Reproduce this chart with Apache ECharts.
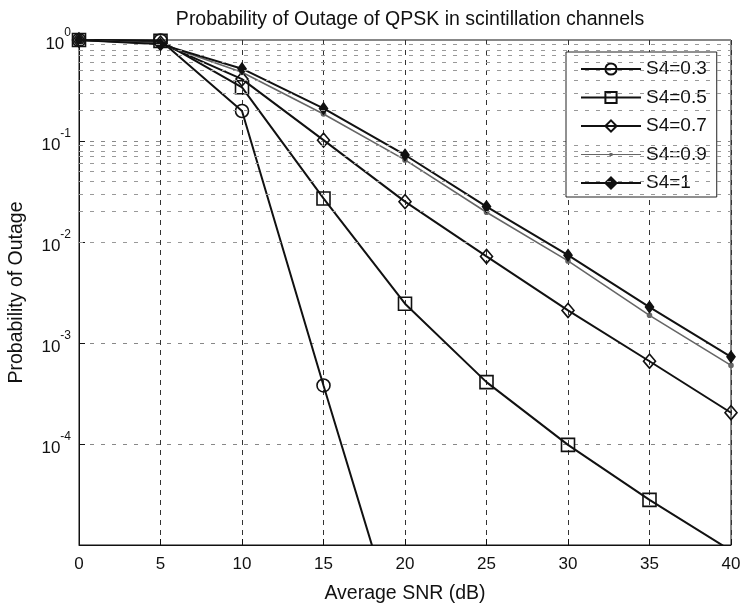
<!DOCTYPE html>
<html>
<head>
<meta charset="utf-8">
<script src="https://cdn.jsdelivr.net/npm/echarts@6/dist/echarts.min.js"></script>
<style>
  html, body { margin: 0; padding: 0; background: #fff; }
  #chart { width: 744px; height: 604px; }
</style>
</head>
<body>
<div id="chart"></div>
<script>
// Average SNR (dB) sample points
const snr = [0, 5, 10, 15, 20, 25, 30, 35, 40];

// Outage probability for each scintillation index S4
const outageS4_03 = [1, 0.99, 0.198, 3.8e-4, 8.3e-7];
const outageS4_05 = [1, 0.98, 0.34, 0.027, 2.45e-3, 4.1e-4, 9.8e-5, 2.8e-5, 8.8e-6];
const outageS4_07 = [1, 0.93, 0.41, 0.102, 0.0251, 7.2e-3, 2.1e-3, 6.6e-4, 2.04e-4];
const outageS4_09 = [1, 0.92, 0.48, 0.185, 0.065, 0.0197, 6.5e-3, 1.88e-3, 6.0e-4];
const outageS4_10 = [1, 0.91, 0.52, 0.21, 0.0727, 0.0224, 7.4e-3, 2.27e-3, 7.3e-4];

const seriesNames = ['S4=0.3', 'S4=0.5', 'S4=0.7', 'S4=0.9', 'S4=1'];
const xTicks = [0, 5, 10, 15, 20, 25, 30, 35, 40];
const decades = [1e-5, 1e-4, 1e-3, 1e-2, 1e-1, 1];

const FONT = '"Liberation Sans", Arial, Helvetica, sans-serif';

function pairs(ys) {
  return ys.map((y, i) => [snr[i], y]);
}

// minor log grid values (2..9 × each decade)
const minorGrid = [];
for (let d = 0; d < decades.length - 1; d++) {
  for (let m = 2; m <= 9; m++) minorGrid.push(m * decades[d]);
}

const chart = echarts.init(document.getElementById('chart'), null, { renderer: 'canvas' });

function curve(name, ys, symbol, size, color, width, fill) {
  return {
    name: name,
    type: 'line',
    data: pairs(ys),
    symbol: symbol,
    symbolSize: size,
    showAllSymbol: true,
    clip: true,
    z: 3,
    lineStyle: { color: color, width: width },
    itemStyle: { color: fill, borderColor: color, borderWidth: 1.6 },
    emphasis: { disabled: true },
    animation: false
  };
}

// thin line with a small dot in the middle, for the S4=0.9 legend entry
const dotLineIcon = 'path://M0,4.4h60v1.2h-60z M28.5,3.5h3v3h-3z';

const option = {
  animation: false,
  backgroundColor: '#fff',
  title: {
    text: 'Probability of Outage of QPSK in scintillation channels',
    left: 405,
    top: 5,
    textAlign: 'center',
    textStyle: { fontFamily: FONT, fontSize: 19.5, fontWeight: 'normal', color: '#111' }
  },
  grid: {
    left: 79, right: 13, top: 40, bottom: 59,
    outerBoundsMode: 'none',
    containLabel: false,
    show: true, borderColor: '#111', borderWidth: 1, backgroundColor: 'transparent'
  },
  legend: {
    data: seriesNames.map(n => n === 'S4=0.9'
      ? { name: n, icon: dotLineIcon, itemStyle: { color: '#666', borderWidth: 0 } }
      : n),
    orient: 'vertical',
    left: 566,
    top: 52,
    itemWidth: 60,
    itemHeight: 14,
    itemGap: 8.5,
    symbolKeepAspect: true,
    padding: [7, 10, 4, 14],
    backgroundColor: '#fff',
    borderColor: '#222',
    borderWidth: 1,
    textStyle: { fontFamily: FONT, fontSize: 19, color: '#111', lineHeight: 20 }
  },
  xAxis: {
    type: 'value',
    min: 0, max: 40, interval: 5,
    name: 'Average SNR (dB)',
    nameLocation: 'middle',
    nameGap: 39,
    nameTextStyle: { fontFamily: FONT, fontSize: 19.5, color: '#111' },
    axisLine: { show: true, lineStyle: { color: '#111' } },
    axisTick: { show: true, inside: true, length: 6, lineStyle: { color: '#111' } },
    axisLabel: {
      fontFamily: FONT, fontSize: 17, color: '#111', margin: 11,
      formatter: v => xTicks.includes(v) ? String(v) : ''
    },
    splitLine: { show: true, lineStyle: { color: '#333', width: 1, type: [5, 5] } }
  },
  yAxis: {
    type: 'log',
    logBase: 10,
    min: 1e-5, max: 1,
    name: 'Probability of Outage',
    nameLocation: 'middle',
    nameGap: 52,
    nameTextStyle: { fontFamily: FONT, fontSize: 19.5, color: '#111' },
    axisLine: { show: true, lineStyle: { color: '#111' } },
    axisTick: { show: true, inside: true, length: 6, lineStyle: { color: '#111' } },
    axisLabel: {
      margin: 8,
      formatter: function (v) {
        const e = Math.round(Math.log10(v));
        if (e <= -5) return '';
        return '{b|10}{s|' + e + '}';
      },
      rich: {
        b: { fontFamily: FONT, fontSize: 17, color: '#111', lineHeight: 26, verticalAlign: 'bottom' },
        s: { fontFamily: FONT, fontSize: 12, color: '#111', lineHeight: 26, verticalAlign: 'top' }
      }
    },
    splitLine: { show: true, lineStyle: { color: '#888', width: 1, type: [4, 7] } }
  },
  series: [
    {
      name: 'minor-grid',
      type: 'line',
      data: [],
      z: 1,
      silent: true,
      markLine: {
        silent: true,
        symbol: ['none', 'none'],
        label: { show: false },
        lineStyle: { color: '#999', width: 1, type: [4, 7] },
        emphasis: { disabled: true },
        data: minorGrid.map(v => ({ yAxis: v }))
      }
    },
    curve('S4=0.3', outageS4_03, 'circle', 13, '#111', 2, 'transparent'),
    curve('S4=0.5', outageS4_05, 'rect', 13, '#111', 2, 'transparent'),
    curve('S4=0.7', outageS4_07, 'diamond', [12, 14], '#111', 2, 'transparent'),
    curve('S4=0.9', outageS4_09, 'circle', 4, '#666', 1.6, '#666'),
    curve('S4=1', outageS4_10, 'diamond', [8, 11], '#111', 2, '#111')
  ]
};

chart.setOption(option);
</script>
</body>
</html>
